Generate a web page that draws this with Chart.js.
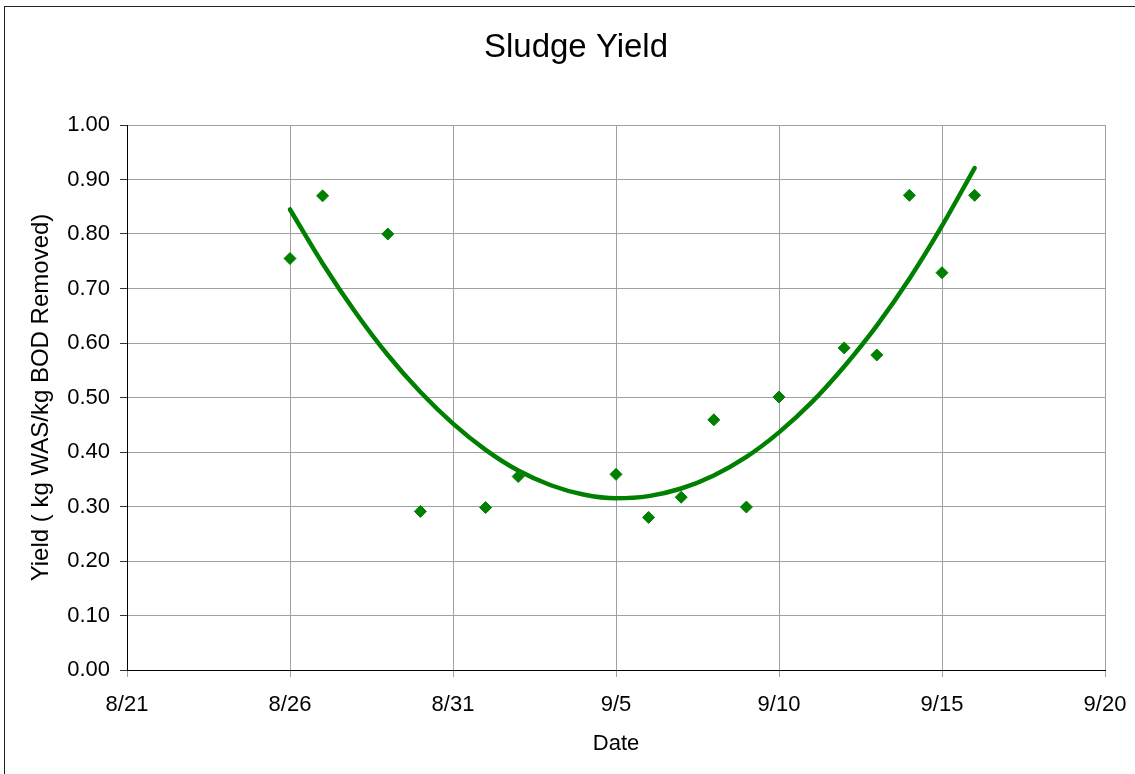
<!DOCTYPE html>
<html>
<head>
<meta charset="utf-8">
<script src="https://cdn.jsdelivr.net/npm/chart.js@4/dist/chart.umd.min.js"></script>
<style>
  html, body { margin: 0; padding: 0; background: #ffffff; }
  #wrap { position: relative; width: 1135px; height: 774px; overflow: hidden; background: #fff; }
  #frame { position: absolute; left: 4px; top: 6px; width: 1200px; height: 900px; border-top: 1px solid #222; border-left: 1px solid #222; pointer-events: none; }
  canvas { position: absolute; left: 0; top: 0; }
</style>
</head>
<body>
<div id="wrap">
  <canvas id="c" width="1135" height="774"></canvas>
  <div id="frame"></div>
</div>
<script>
// ---- data ----
const chartTitle = 'Sludge Yield';
const xAxisTitle = 'Date';
const yAxisTitle = 'Yield ( kg WAS/kg BOD Removed)';

const xTickLabels = ['8/21', '8/26', '8/31', '9/5', '9/10', '9/15', '9/20'];

const sampleDates = ['8/26', '8/27', '8/29', '8/30', '9/1', '9/2', '9/5', '9/6', '9/7',
                     '9/8', '9/9', '9/10', '9/12', '9/13', '9/14', '9/15', '9/16'];
const yieldValues = [0.755, 0.870, 0.800, 0.291, 0.298, 0.355, 0.359, 0.280, 0.317,
                     0.459, 0.299, 0.501, 0.591, 0.578, 0.871, 0.729, 0.871];

// polynomial trend line
const trendDates = ['8/26', '8/27', '8/28', '8/29', '8/30', '8/31', '9/1', '9/2', '9/3', '9/4',
                    '9/5', '9/6', '9/7', '9/8', '9/9', '9/10', '9/11', '9/12', '9/13', '9/14',
                    '9/15', '9/16'];
const trendValues = [0.845, 0.746, 0.657, 0.578, 0.510, 0.452, 0.404, 0.366, 0.339, 0.322,
                     0.315, 0.319, 0.333, 0.357, 0.391, 0.436, 0.491, 0.557, 0.632, 0.718,
                     0.815, 0.921];

// ---- helpers ----
const ORIGIN = '8/21';
function dayIndex(s) {
  const [m, d] = s.split('/').map(Number);
  const base = (m === 8) ? d : 31 + d; // Aug has 31 days
  const [om, od] = ORIGIN.split('/').map(Number);
  const obase = (om === 8) ? od : 31 + od;
  return base - obase;
}
const scatterData = sampleDates.map((d, i) => ({ x: dayIndex(d), y: yieldValues[i] }));
const trendData = trendDates.map((d, i) => ({ x: dayIndex(d), y: trendValues[i] }));
const tickPositions = xTickLabels.map(dayIndex);

const GREEN = '#008000';
const GRID = '#a0a0a0';
const FONT = "'Liberation Sans', Arial, sans-serif";

new Chart(document.getElementById('c'), {
  type: 'scatter',
  data: {
    datasets: [
      {
        label: 'Yield',
        data: scatterData,
        pointStyle: 'rectRot',
        pointRadius: 6,
        pointHoverRadius: 6,
        backgroundColor: GREEN,
        borderColor: GREEN,
        borderWidth: 1,
        showLine: false
      },
      {
        label: 'Trend',
        type: 'line',
        data: trendData,
        borderColor: GREEN,
        borderWidth: 4.5,
        pointRadius: 0,
        fill: false,
        cubicInterpolationMode: 'monotone',
        borderCapStyle: 'round',
        borderJoinStyle: 'round'
      }
    ]
  },
  options: {
    responsive: false,
    animation: false,
    devicePixelRatio: 1,
    layout: { padding: { left: 47, right: 30, top: 0, bottom: 17 } },
    plugins: {
      legend: { display: false },
      tooltip: { enabled: false },
      title: {
        display: true,
        text: chartTitle,
        color: '#000',
        font: { family: FONT, size: 33, weight: 'normal', lineHeight: 1.2 },
        padding: { top: 28.2, bottom: 57.2 }
      }
    },
    scales: {
      x: {
        type: 'linear',
        min: 0,
        max: 30,
        afterFit: (s) => { s.height = 87; s.paddingLeft = 0; s.paddingRight = 0; },
        afterBuildTicks: (s) => { s.ticks = tickPositions.map(v => ({ value: v })); },
        ticks: {
          color: '#000',
          font: { family: FONT, size: 22, lineHeight: 1.2 },
          padding: 15,
          maxRotation: 0,
          autoSkip: false,
          callback: (v) => { const i = tickPositions.indexOf(v); return i >= 0 ? xTickLabels[i] : ''; }
        },
        grid: { color: GRID, lineWidth: 1, tickLength: 7, tickColor: GRID },
        border: { color: '#000', width: 1 },
        title: {
          display: true,
          text: xAxisTitle,
          color: '#000',
          font: { family: FONT, size: 22, lineHeight: 1.2 },
          padding: 0
        }
      },
      y: {
        type: 'linear',
        min: 0,
        max: 1,
        afterFit: (s) => { s.width = 80; },
        ticks: {
          stepSize: 0.1,
          color: '#000',
          font: { family: FONT, size: 22, lineHeight: 1.2 },
          padding: 10,
          callback: (v) => Number(v).toFixed(2)
        },
        grid: { color: GRID, lineWidth: 1, tickLength: 7, tickColor: '#333' },
        border: { color: '#000', width: 1 },
        title: {
          display: true,
          text: yAxisTitle,
          color: '#000',
          font: { family: FONT, size: 24, lineHeight: 1.2 },
          padding: { top: -20, bottom: -20 }
        }
      }
    }
  }
});
</script>
</body>
</html>
